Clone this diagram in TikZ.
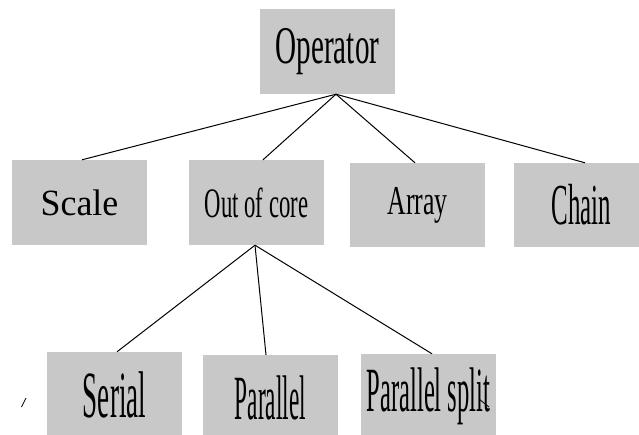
\documentclass[tikz,border=0pt]{standalone}
\usepackage{fontspec}
\setmainfont{Liberation Serif}
\newcommand{\boxlbl}[3]{\scalebox{#2}[1]{\fontsize{#1}{#1}\selectfont #3}}
\tikzset{
  cbox/.style={fill=boxgray, draw=none, minimum width=135pt, minimum height=85pt, inner sep=0pt},
  link/.style={draw=black, line width=1pt},
  stray/.style={draw=black, line width=0.8pt}
}
\definecolor{boxgray}{RGB}{200,200,200}
\begin{document}
\begin{tikzpicture}[x=1pt,y=-1pt]
\useasboundingbox (0,0) rectangle (639,434);
\begin{scope}
\clip (0,0) rectangle (639,434);
\node[cbox] (op) at (327.5,51.5) {\boxlbl{53}{0.55}{Operator}};
\node[cbox] (sc) at (79.5,202.5) {\boxlbl{37}{0.97}{Scale}};
\node[cbox] (oc) at (256.5,202.5) {\boxlbl{42}{0.54}{Out of core}};
\node[cbox, minimum height=84pt] (ar) at (417.5,205) {\boxlbl{41}{0.63}{Array}};
\node[cbox, minimum height=84pt] (ch) at (581.5,205) {\boxlbl{58}{0.43}{Chain}};
\node[cbox] (se) at (114.5,394.5) {\boxlbl{66}{0.41}{Serial}};
\node[cbox] (pa) at (270.5,397.5) {\boxlbl{63}{0.37}{Parallel}};
\node[cbox] (ps) at (428.5,396.5) {\boxlbl{63}{0.39}{Parallel split}};
\end{scope}
\draw[link] ([xshift=8.5pt]op.south) -- ([xshift=2.5pt]sc.north);
\draw[link] ([xshift=8.5pt]op.south) -- ([xshift=6.5pt]oc.north);
\draw[link] ([xshift=8.5pt]op.south) -- ([xshift=-2.5pt]ar.north);
\draw[link] ([xshift=8.5pt]op.south) -- ([xshift=3.5pt]ch.north);
\draw[link] ([xshift=-1.5pt]oc.south) -- ([xshift=2.5pt]se.north);
\draw[link] ([xshift=-1.5pt]oc.south) -- ([xshift=-4.5pt]pa.north);
\draw[link] ([xshift=-1.5pt]oc.south) -- ([xshift=3.5pt]ps.north);
\coordinate (m1a) at (21.5,407);
\coordinate (m1b) at (26,398);
\draw[stray] (m1a) -- (m1b);
\coordinate (m2a) at (479,399);
\coordinate (m2b) at (489,407);
\draw[stray] (m2a) -- (m2b);
\end{tikzpicture}
\end{document}
